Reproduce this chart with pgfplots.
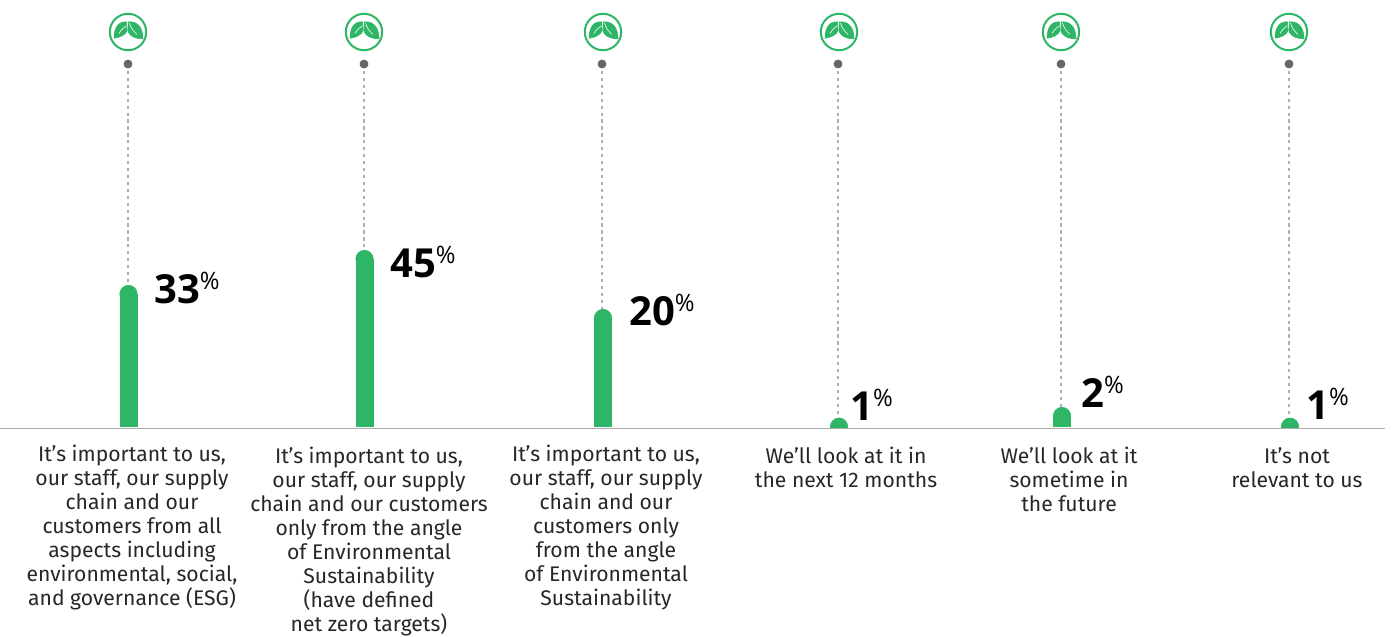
\documentclass[border=0pt]{standalone}
\usepackage{pgfplots}
\pgfplotsset{compat=1.18}
\usepackage{fontspec}
\setmainfont{Fira Sans}
\newfontfamily\valfont{Open Sans}
\definecolor{barg}{HTML}{2EB566}
\definecolor{dotg}{HTML}{666666}
\definecolor{stemg}{HTML}{B0B0B0}
\definecolor{baseg}{HTML}{ABABAB}
\definecolor{txt}{HTML}{26262B}
\pgfdeclareplotmark{leaf}{%
  \begin{scope}[x=0.75pt,y=0.75pt,yscale=-1]
    \draw[barg,line width=1.5pt] (0,0) circle (18.2);
    % left leaf
    \fill[barg] (-1.2,10) .. controls (-9,11) and (-14,5) .. (-14,-6.2) .. controls (-8,-5.5) and (-2.5,-3) .. (-0.8,1.5) .. controls (-1.8,4) and (-1.8,7) .. (-1.2,10) -- cycle;
    % right leaf
    \fill[barg] (0.4,10) .. controls (9,11) and (15,5) .. (15,-6.8) .. controls (7,-7) and (-1.5,-3) .. (-0.1,4.5) .. controls (0,6.5) and (0.1,8) .. (0.4,10) -- cycle;
    \draw[white,line width=0.45pt] (-9,-1.5) .. controls (-7,2) and (-5,4) .. (-2,6);
    \draw[white,line width=0.45pt] (1.5,9) .. controls (2.5,5) and (5,1) .. (9,-2.5);
  \end{scope}
}
\newcommand{\val}[4]{\node[anchor=base west,inner sep=0pt,text=black] at (axis cs:#1,#2) {\valfont\fontsize{30}{30}\selectfont\bfseries #3\raisebox{0.33em}{\fontsize{18}{18}\selectfont\mdseries\%}};}
\newcommand{\lab}[3]{\node[anchor=north,align=center,inner sep=0pt,text=txt,font=\fontsize{15.85}{18}\selectfont] at (axis cs:#1,#2) {#3};}
\begin{document}
\begin{tikzpicture}[x=1pt,y=1pt]
\useasboundingbox (0,0) rectangle (1049.25,477);
% full-page axis, in picture coordinates
\begin{axis}[at={(0,0)},anchor=south west,scale only axis,width=1049.25pt,height=477pt,
  xmin=0,xmax=1399,ymin=0,ymax=636,y dir=reverse,hide axis,clip=false]
  \addplot[stemg,line width=0.8pt,dash pattern=on 2.4pt off 2.8pt] coordinates {(128,64)(128,286)};
  \addplot[stemg,line width=0.8pt,dash pattern=on 2.4pt off 2.8pt] coordinates {(364,64)(364,251)};
  \addplot[stemg,line width=0.8pt,dash pattern=on 2.4pt off 2.8pt] coordinates {(602,64)(602,310)};
  \addplot[stemg,line width=0.8pt,dash pattern=on 2.4pt off 2.8pt] coordinates {(838,64)(838,419)};
  \addplot[stemg,line width=0.8pt,dash pattern=on 2.4pt off 2.8pt] coordinates {(1061,64)(1061,408)};
  \addplot[stemg,line width=0.8pt,dash pattern=on 2.4pt off 2.8pt] coordinates {(1289,64)(1289,419)};
  \addplot[baseg,line width=1pt] coordinates {(0,428.5)(1385,428.5)};
  \addplot[only marks,mark=*,mark size=3pt,mark options={fill=dotg,draw=dotg,line width=0.6pt}] coordinates {(128,64)(364,64)(602,64)(838,64)(1061,64)(1289,64)};
  \addplot[only marks,mark=leaf] coordinates {(128,32)(364,32)(603,32)(839,32)(1061,32)(1289,32)};
  \val{154}{303}{33}{}
  \val{390}{277}{45}{}
  \val{629}{325}{20}{}
  \val{850}{420}{1}{}
  \val{1081}{407}{2}{}
  \val{1306}{419}{1}{}
  \lab{132}{445}{It's important to us,\\our staff, our supply\\chain and our\\customers from all\\aspects including\\environmental, social,\\and governance (ESG)}
  \lab{369}{447}{It’s important to us,\\our staff, our supply\\chain and our customers\\only from the angle\\of Environmental\\Sustainability\\(have defined\\net zero targets)}
  \lab{606}{445}{It’s important to us,\\our staff, our supply\\chain and our\\customers only\\from the angle\\of Environmental\\Sustainability}
  \lab{846}{447}{We'll look at it in\\the next 12 months}
  \lab{1069}{447}{We'll look at it\\sometime in\\the future}
  \lab{1297}{447}{It's not\\relevant to us}
\end{axis}
% bars: height above the baseline, in picture pixels; the round top sits at height-9
\begin{axis}[at={(0,156.75pt)},anchor=south west,scale only axis,width=1049.25pt,height=225pt,
  xmin=0,xmax=1399,ymin=0,ymax=300,hide axis,clip=true,clip marker paths=true]
  \addplot[ycomb,barg,line width=13.5pt,mark=*,mark size=6.5pt,mark options={fill=barg,draw=barg,line width=0.5pt}] coordinates {
    (128.5,133) (364.5,168) (603,109) (839,0.3) (1062,11) (1290,0.3)};
\end{axis}
\end{tikzpicture}
\end{document}
